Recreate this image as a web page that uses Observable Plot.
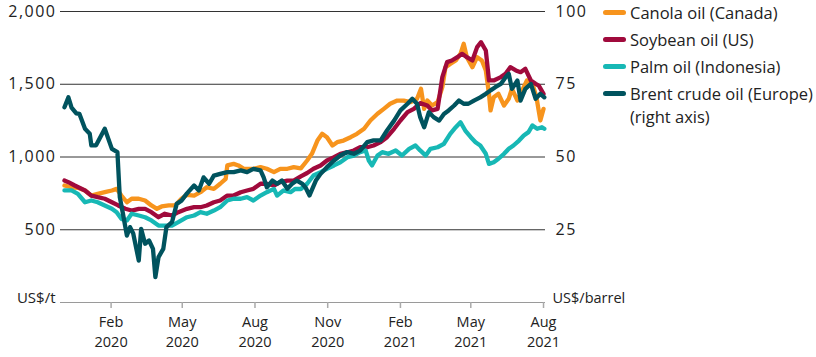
<!DOCTYPE html>
<html>
<head>
<meta charset="utf-8">
<script src="https://cdn.jsdelivr.net/npm/d3@7"></script>
<script src="https://cdn.jsdelivr.net/npm/@observablehq/plot@0.6"></script>
<style>
  html, body { margin: 0; padding: 0; background: #fff; }
  #wrap { position: relative; width: 816px; height: 357px; font-family: "Open Sans", sans-serif; color: #222; }
  #legend { position: absolute; left: 603px; top: -1px; font-size: 16.5px; line-height: 27px; }
  .row { display: flex; align-items: center; height: 27px; }
  .sw { width: 23px; height: 5px; border-radius: 3px; margin-right: 4px; flex: none; }
  .sub { padding-left: 27px; line-height: 22px; margin-top: -1.5px; }
</style>
</head>
<body>
<div id="wrap"><div id="chart"></div><div id="legend"></div></div>
<script>
const seriesNames = ["Canola oil (Canada)", "Soybean oil (US)", "Palm oil (Indonesia)", "Brent crude oil (Europe)"];
const seriesColors = ["#F7941D", "#A00A3C", "#17B8B5", "#00535E"];
const rightAxisNote = "(right axis)";
const leftUnit = "US$/t";
const rightUnit = "US$/barrel";
const leftTicks = [500, 1000, 1500, 2000];
const rightTickLabels = ["25", "50", "75", "100"];
const xTickDates = ["2020-02-01", "2020-05-01", "2020-08-01", "2020-11-01", "2021-02-01", "2021-05-01", "2021-08-01"];
const xTickMonths = ["Feb", "May", "Aug", "Nov", "Feb", "May", "Aug"];
const xTickYears = ["2020", "2020", "2020", "2020", "2021", "2021", "2021"];
const xDomain = ["2019-11-29", "2021-08-03T12:00"];

const canolaDates = ["2019-12-04","2019-12-13","2019-12-21","2019-12-30","2020-01-07","2020-01-15","2020-01-24","2020-02-02","2020-02-08","2020-02-14","2020-02-21","2020-02-27","2020-03-07","2020-03-15","2020-03-23","2020-03-30","2020-04-05","2020-04-14","2020-04-22","2020-04-30","2020-05-07","2020-05-16","2020-05-24","2020-06-01","2020-06-10","2020-06-18","2020-06-25","2020-06-27","2020-07-05","2020-07-11","2020-07-18","2020-07-30","2020-08-08","2020-08-16","2020-08-25","2020-09-02","2020-09-11","2020-09-19","2020-09-28","2020-10-06","2020-10-12","2020-10-19","2020-10-25","2020-10-31","2020-11-07","2020-11-13","2020-11-21","2020-11-30","2020-12-08","2020-12-17","2020-12-25","2021-01-03","2021-01-11","2021-01-19","2021-01-28","2021-02-05","2021-02-14","2021-02-22","2021-02-27","2021-03-03","2021-03-07","2021-03-13","2021-03-20","2021-03-26","2021-03-30","2021-04-05","2021-04-12","2021-04-18","2021-04-22","2021-04-26","2021-05-03","2021-05-09","2021-05-15","2021-05-20","2021-05-24","2021-05-26","2021-05-30","2021-06-05","2021-06-12","2021-06-18","2021-06-22","2021-06-29","2021-07-05","2021-07-11","2021-07-18","2021-07-23","2021-07-28","2021-08-01"];
const canolaValues = [804,792,788,770,735,747,758,770,781,735,689,713,713,701,667,644,660,667,667,713,740,735,758,792,781,816,850,942,953,942,919,919,930,919,896,919,919,930,922,976,1022,1113,1159,1136,1079,1102,1113,1136,1159,1194,1251,1297,1331,1366,1388,1388,1377,1400,1469,1331,1388,1354,1377,1480,1617,1640,1663,1709,1778,1686,1617,1686,1663,1595,1434,1320,1411,1434,1354,1400,1469,1388,1457,1526,1503,1411,1251,1331];

const soyDates = ["2019-12-04","2019-12-09","2019-12-17","2019-12-30","2020-01-07","2020-01-15","2020-01-24","2020-02-02","2020-02-10","2020-02-19","2020-02-27","2020-03-07","2020-03-15","2020-03-23","2020-04-01","2020-04-09","2020-04-18","2020-04-26","2020-05-07","2020-05-16","2020-05-24","2020-06-01","2020-06-10","2020-06-18","2020-06-27","2020-07-05","2020-07-14","2020-07-22","2020-07-30","2020-08-08","2020-08-16","2020-08-25","2020-09-02","2020-09-11","2020-09-19","2020-09-28","2020-10-06","2020-10-14","2020-10-23","2020-10-31","2020-11-09","2020-11-17","2020-11-26","2020-12-04","2020-12-12","2020-12-21","2020-12-29","2021-01-07","2021-01-15","2021-01-24","2021-02-01","2021-02-10","2021-02-18","2021-02-26","2021-03-07","2021-03-13","2021-03-20","2021-03-26","2021-04-01","2021-04-07","2021-04-14","2021-04-20","2021-04-26","2021-05-03","2021-05-09","2021-05-14","2021-05-20","2021-05-24","2021-05-30","2021-06-08","2021-06-14","2021-06-20","2021-06-27","2021-07-03","2021-07-09","2021-07-16","2021-07-22","2021-07-26","2021-08-01"];
const soyValues = [838,827,804,770,735,724,713,689,667,644,632,644,644,621,586,610,598,621,644,655,655,667,689,701,735,735,758,770,781,816,816,804,827,838,838,867,890,919,942,976,999,1022,1033,1045,1067,1067,1079,1102,1136,1194,1251,1308,1331,1370,1354,1320,1331,1549,1652,1663,1686,1709,1686,1663,1755,1789,1732,1526,1526,1549,1572,1617,1595,1583,1606,1526,1503,1491,1434];

const palmDates = ["2019-12-04","2019-12-13","2019-12-21","2019-12-30","2020-01-07","2020-01-15","2020-01-24","2020-02-02","2020-02-08","2020-02-14","2020-02-21","2020-02-27","2020-03-07","2020-03-15","2020-03-23","2020-04-01","2020-04-09","2020-04-18","2020-04-26","2020-05-07","2020-05-16","2020-05-24","2020-06-01","2020-06-10","2020-06-18","2020-06-27","2020-07-05","2020-07-14","2020-07-22","2020-07-30","2020-08-08","2020-08-16","2020-08-25","2020-08-29","2020-09-06","2020-09-15","2020-09-21","2020-09-28","2020-10-06","2020-10-14","2020-10-23","2020-10-31","2020-11-09","2020-11-17","2020-11-26","2020-12-04","2020-12-12","2020-12-19","2020-12-23","2020-12-27","2021-01-03","2021-01-09","2021-01-17","2021-01-26","2021-02-03","2021-02-12","2021-02-20","2021-02-26","2021-03-05","2021-03-11","2021-03-20","2021-03-28","2021-04-05","2021-04-12","2021-04-18","2021-04-24","2021-05-01","2021-05-07","2021-05-13","2021-05-20","2021-05-24","2021-05-30","2021-06-05","2021-06-12","2021-06-18","2021-06-24","2021-07-01","2021-07-07","2021-07-13","2021-07-18","2021-07-24","2021-07-30","2021-08-02"];
const palmValues = [770,770,747,689,701,689,667,644,621,575,564,610,598,586,564,529,529,529,552,586,598,621,610,632,655,701,713,713,724,701,735,758,781,735,770,758,781,780,816,873,896,919,942,964,999,1010,1033,1045,976,942,1010,1033,1022,1045,1010,1056,1079,1045,1010,1056,1067,1091,1159,1205,1239,1182,1136,1102,1079,1022,953,964,988,1022,1056,1079,1113,1148,1171,1217,1194,1205,1194];

const brentDates = ["2019-12-04","2019-12-09","2019-12-13","2019-12-19","2019-12-23","2019-12-30","2020-01-05","2020-01-07","2020-01-13","2020-01-24","2020-02-02","2020-02-09","2020-02-12","2020-02-16","2020-02-21","2020-02-25","2020-02-29","2020-03-07","2020-03-10","2020-03-15","2020-03-20","2020-03-25","2020-03-28","2020-04-01","2020-04-07","2020-04-11","2020-04-18","2020-04-24","2020-04-30","2020-05-07","2020-05-16","2020-05-22","2020-05-28","2020-06-04","2020-06-10","2020-06-18","2020-06-27","2020-07-05","2020-07-14","2020-07-22","2020-07-30","2020-08-08","2020-08-12","2020-08-16","2020-08-23","2020-08-29","2020-09-04","2020-09-11","2020-09-17","2020-09-23","2020-09-30","2020-10-04","2020-10-09","2020-10-17","2020-10-23","2020-10-31","2020-11-09","2020-11-17","2020-11-26","2020-12-04","2020-12-12","2020-12-21","2020-12-29","2021-01-07","2021-01-15","2021-01-24","2021-02-01","2021-02-10","2021-02-16","2021-02-22","2021-02-26","2021-03-03","2021-03-09","2021-03-15","2021-03-22","2021-03-28","2021-04-03","2021-04-10","2021-04-16","2021-04-22","2021-04-28","2021-05-05","2021-05-13","2021-05-20","2021-05-26","2021-06-01","2021-06-08","2021-06-14","2021-06-18","2021-06-22","2021-06-29","2021-07-03","2021-07-09","2021-07-16","2021-07-22","2021-07-28","2021-08-02"];
const brentValues = [67.1,70.5,67.0,65.0,64.8,59.7,58.0,54.0,54.0,59.7,52.8,51.7,36.2,30.5,23.0,25.9,23.7,14.4,25.3,20.2,21.3,18.4,8.7,15.6,18.4,25.9,27.6,33.9,35.0,37.5,40.2,38.5,43.0,40.8,43.6,44.2,44.8,44.8,45.4,44.8,45.9,45.4,43.0,39.6,41.9,40.8,41.9,39.1,40.8,41.9,40.8,39.5,36.8,41.9,44.2,46.5,48.8,50.5,51.7,51.1,52.2,55.1,55.7,55.7,59.1,62.5,66.0,68.3,70.0,68.3,63.7,60.2,65.4,63.7,62.5,64.8,66.0,67.7,69.4,68.3,68.3,69.4,70.5,71.7,72.9,74.0,75.1,77.4,78.6,73.4,76.3,69.4,73.4,75.1,70.0,71.7,70.5];

// right axis: 100 US$/barrel aligns with 2,000 US$/t
const rightToLeft = 20;

const parse = d3.utcParse("%Y-%m-%d");
const parseT = s => s.includes("T") ? new Date(s + "Z") : parse(s);
function build(name, dates, values, factor) {
  return dates.map((d, i) => ({series: name, date: parse(d), value: values[i] * factor}));
}
const rows = [
  ...build(seriesNames[0], canolaDates, canolaValues, 1),
  ...build(seriesNames[1], soyDates, soyValues, 1),
  ...build(seriesNames[2], palmDates, palmValues, 1),
  ...build(seriesNames[3], brentDates, brentValues, rightToLeft)
];

const font = '"Open Sans", sans-serif';
const xTicks = xTickDates.map(parse);
const monthFor = new Map(xTicks.map((d, i) => [+d, xTickMonths[i]]));
const yearFor = new Map(xTicks.map((d, i) => [+d, xTickYears[i]]));

const chart = Plot.plot({
  width: 816,
  height: 357,
  marginLeft: 60,
  marginRight: 271,
  marginTop: 11,
  marginBottom: 55,
  style: {fontFamily: font, fontSize: "16px", color: "#222", background: "#fff"},
  x: {type: "utc", domain: xDomain.map(parseT)},
  y: {domain: [0, 2000]},
  color: {domain: seriesNames, range: seriesColors},
  marks: [
    Plot.gridY(leftTicks, {stroke: "#333", strokeOpacity: 1, strokeWidth: 1}),
    Plot.ruleY([0], {stroke: "#9a9a9a", strokeWidth: 1.2}),
    Plot.axisY({anchor: "left", ticks: leftTicks, tickSize: 0, tickPadding: 4, tickFormat: d3.format(","), fontSize: 16, label: null}),
    Plot.axisY({anchor: "right", ticks: leftTicks, tickSize: 0, tickPadding: 10, tickFormat: d => rightTickLabels[leftTicks.indexOf(d)], fontSize: 16, label: null}),
    Plot.axisX({ticks: xTicks, tickSize: 6, tickPadding: 8.5, stroke: "#aaa", strokeWidth: 1.5, tickFormat: d => monthFor.get(+d), fontSize: 14.5, label: null}),
    Plot.axisX({ticks: xTicks, tickSize: 0, tickPadding: 34.5, tickFormat: d => yearFor.get(+d), fontSize: 14.5, label: null}),
    Plot.text([leftUnit], {frameAnchor: "bottom-left", textAnchor: "end", dx: -5, fontSize: 15, fill: "#222"}),
    Plot.text([rightUnit], {frameAnchor: "bottom-right", textAnchor: "start", dx: 7, fontSize: 14.5, fill: "#222"}),
    Plot.line(rows, {x: "date", y: "value", z: "series", stroke: "series", strokeWidth: 4.3, strokeLinejoin: "round", strokeLinecap: "round"})
  ]
});
d3.select(chart).selectAll('g[aria-label="y-axis tick label"]').style("letter-spacing", "1.5px");
document.getElementById("chart").appendChild(chart);

const legend = document.getElementById("legend");
seriesNames.forEach((name, i) => {
  const row = document.createElement("div");
  row.className = "row";
  const sw = document.createElement("span");
  sw.className = "sw";
  sw.style.background = seriesColors[i];
  const label = document.createElement("span");
  label.textContent = name;
  row.appendChild(sw); row.appendChild(label);
  legend.appendChild(row);
});
const note = document.createElement("div");
note.className = "sub";
note.textContent = rightAxisNote;
legend.appendChild(note);
</script>
</body>
</html>
